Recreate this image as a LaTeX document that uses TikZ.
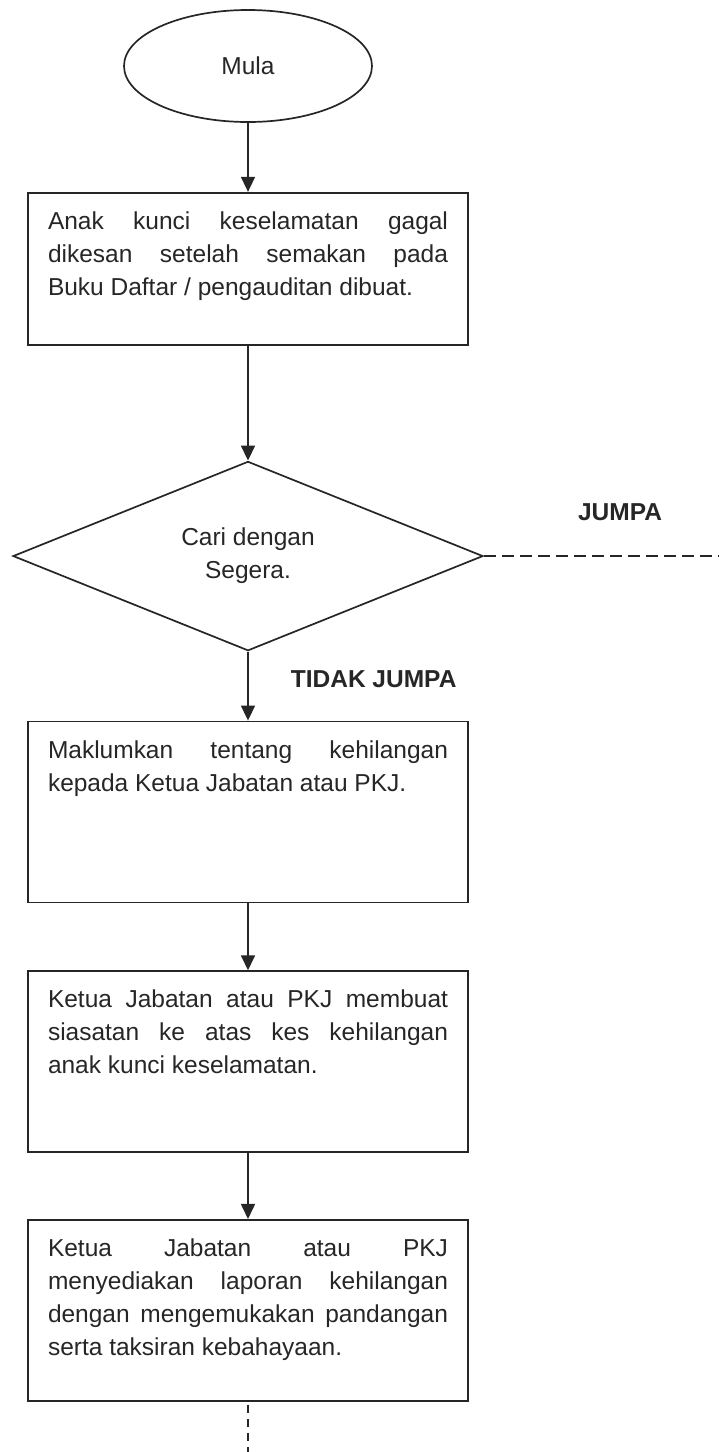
\documentclass[tikz,border=0pt]{standalone}
\usepackage{fontspec}
\setmainfont{Liberation Sans}
\usetikzlibrary{arrows.meta, positioning, shapes.geometric}
\tolerance=10000
\hyphenpenalty=10000

\begin{document}
\begin{tikzpicture}[x=1pt, y=1pt, >={Triangle[width=14pt, length=15pt]},
  font=\fontsize{24.5}{33}\selectfont, line width=1.7pt, draw=black!85, text=black!85,
  proc/.style={draw, rectangle, inner xsep=20pt, inner ysep=19pt},
  term/.style={draw, ellipse, minimum width=248pt, minimum height=112pt},
  decide/.style={draw, diamond, minimum width=470pt, minimum height=185pt, align=center,
    inner sep=0pt},
  lbl/.style={font=\fontsize{24.5}{33}\selectfont\bfseries, inner sep=0pt},
  dashline/.style={dash pattern=on 12pt off 6pt},
  dashdown/.style={dash pattern=on 8pt off 6pt, dash phase=-3pt}]
  \useasboundingbox (0,0) rectangle (718,-1452);
  \node[term] (mula) at (248,-66) {Mula};
  \node[proc, below=69pt of mula] (semak) {\parbox[c][114pt][t]{400pt}{Anak kunci
    keselamatan gagal\linebreak dikesan setelah semakan pada\linebreak Buku Daftar /
    pengauditan dibuat.}};
  \node[decide, below=115pt of semak] (cari) {Cari dengan\\Segera.};
  \node[proc, below=69pt of cari] (maklum) {\parbox[c][143pt][t]{400pt}{Maklumkan tentang
    kehilangan\linebreak kepada Ketua Jabatan atau PKJ.}};
  \node[proc, below=67pt of maklum] (siasat) {\parbox[c][143pt][t]{400pt}{Ketua Jabatan atau
    PKJ membuat\linebreak siasatan ke atas kes kehilangan\linebreak anak kunci keselamatan.}};
  \node[proc, below=66pt of siasat] (lapor) {\parbox[c][143pt][t]{400pt}{Ketua Jabatan atau
    PKJ\linebreak menyediakan laporan kehilangan\linebreak dengan mengemukakan
    pandangan\linebreak serta taksiran kebahayaan.}};
  \coordinate[right=235pt of cari.east] (jumpaend);
  \coordinate[below=63pt of lapor.south] (akhir);
  \node[lbl, above left=34pt and 56pt of jumpaend] (jumpa) {JUMPA};
  \node[lbl, below right=18pt and 42pt of cari.south] (tidak) {TIDAK JUMPA};
  \draw[->] (mula) -- (semak);
  \draw[->] (semak) -- (cari);
  \draw[->] (cari) -- (maklum);
  \draw[->] (maklum) -- (siasat);
  \draw[->] (siasat) -- (lapor);
  \draw[dashline] (cari.east) -- (jumpaend);
  \draw[dashdown] (lapor.south) -- (akhir);
\end{tikzpicture}
\end{document}
